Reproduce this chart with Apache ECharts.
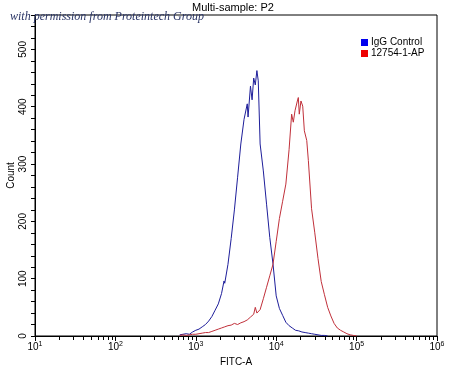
<!DOCTYPE html>
<html><head><meta charset="utf-8">
<script src="https://cdn.jsdelivr.net/npm/echarts@6/dist/echarts.min.js"></script>
<style>html,body{margin:0;padding:0;background:#fff}#c{width:450px;height:367px}</style>
</head><body><div id="c"></div>
<script>
var titleText = 'Multi-sample: P2';
var watermark = 'with permission from Proteintech Group';
var xName = 'FITC-A';
var yName = 'Count';
var seriesNames = ['IgG Control', '12754-1-AP'];

var iggX = [631,692,759,832,912,1000,1096,1202,1318,1445,1585,1738,1905,2089,2244,2291,2512,2754,3020,3311,3631,3981,4365,4467,4786,5012,5248,5495,5754,5984,6310,6918,7586,8318,9120,10000,10965,12023,13183,14454,15849,17378,19055,20893,22909,25119,27542,30200,33113,36308,39811,43652];
var iggY = [2,3,4,3,7,10,12,16,20,26,34,45,56,74,96,92,125,170,220,277,335,378,405,382,436,412,450,438,463,445,335,288,230,172,126,70,48,36,24,18,14,10,9,7,6,5,4,3,2,1,1,0];
var abX = [631,692,759,832,912,1000,1096,1202,1318,1445,1585,1738,1905,2089,2291,2512,2754,3020,3311,3631,3981,4365,4786,5248,5495,5754,6310,6918,7586,8318,9120,10000,10965,12023,13183,14454,15560,16323,17140,18330,18840,19360,20320,21380,22390,23990,25119,27542,30200,33113,36308,39811,43652,47863,52481,57544,63096,69183,75858,83176,91201,100000];
var abY = [1,2,1,2,3,3,4,5,6,6,8,10,12,14,16,18,19,22,20,23,25,28,33,38,50,40,46,65,85,105,125,165,205,235,265,325,387,373,393,410,416,387,410,401,358,341,306,222,180,135,95,72,50,35,22,14,10,7,4,2,1,0];

var minorTicks = [20,30,40,50,60,70,80,90,200,300,400,500,600,700,800,900,2000,3000,4000,5000,6000,7000,8000,9000,20000,30000,40000,50000,60000,70000,80000,90000,200000,300000,400000,500000,600000,700000,800000,900000];

function pairs(xs, ys){ return xs.map(function(x,i){ return [x, ys[i]]; }); }

var chart = echarts.init(document.getElementById('c'), null, {renderer:'canvas'});
chart.setOption({
  animation: false,
  backgroundColor: '#fff',
  textStyle: {fontFamily: '"Liberation Sans", Arial, sans-serif'},
  grid: {left: 35, right: 13, top: 15, bottom: 31, show: true, borderColor: '#000', borderWidth: 1, backgroundColor: 'transparent', containLabel: false, outerBoundsMode: 'none'},
  graphic: {elements: [
    {id: 'title', type: 'text', left: 192, top: 2, style: {text: titleText, font: '11px "Liberation Sans", Arial, sans-serif', fill: '#000'}},
    {id: 'wm', type: 'text', left: 10, top: 11, z: 100, style: {text: watermark, font: 'italic 12px "Liberation Serif", serif', fill: '#2a3566'}}
  ]},
  legend: {
    left: 356, top: 32, orient: 'vertical', itemWidth: 7, itemHeight: 7, itemGap: 0,
    icon: 'rect',
    textStyle: {fontSize: 10, lineHeight: 11, color: '#000', padding: [0,0,0,-2]},
    data: [
      {name: seriesNames[0], itemStyle: {color: '#0000ee'}},
      {name: seriesNames[1], itemStyle: {color: '#ee0000'}}
    ]
  },
  xAxis: {
    type: 'log', logBase: 10, min: 10, max: 1000000,
    name: xName, nameLocation: 'middle', nameGap: 21, nameMoveOverlap: false,
    nameTextStyle: {fontSize: 10, color: '#000'},
    axisLine: {lineStyle: {color: '#000', width: 1}},
    axisTick: {show: true, length: 5, lineStyle: {color: '#000'}},
    splitLine: {show: false},
    axisLabel: {
      color: '#000', margin: 5,
      formatter: function(v){ return '{b|10}{s|' + Math.round(Math.log10(v)) + '}'; },
      rich: {b: {fontSize: 10, color: '#000'}, s: {fontSize: 7, color: '#000', verticalAlign: 'top', padding: [0,0,6,0]}}
    }
  },
  yAxis: {
    type: 'value', min: 0, max: 560, interval: 20,
    name: yName, nameLocation: 'middle', nameGap: 19, nameMoveOverlap: false,
    nameTextStyle: {fontSize: 10, color: '#000'},
    axisLine: {show: true, lineStyle: {color: '#000', width: 1}},
    axisTick: {show: true, length: 4, lineStyle: {color: '#000'}},
    splitLine: {show: false},
    axisLabel: {
      color: '#000', fontSize: 10, rotate: 90, margin: 7,
      formatter: function(v){ return v % 100 === 0 && v <= 500 ? String(v) : ''; }
    }
  },
  series: [
    {name: seriesNames[0], type: 'line', data: pairs(iggX, iggY), showSymbol: false, symbol: 'none',
     lineStyle: {color: '#1e1e9a', width: 1}, itemStyle: {color: '#0000ee'}},
    {name: seriesNames[1], type: 'line', data: pairs(abX, abY), showSymbol: false, symbol: 'none',
     lineStyle: {color: '#c0303a', width: 1}, itemStyle: {color: '#ee0000'}}
  ]
});

var dbg = '';
try {
  var y0 = chart.convertToPixel({yAxisIndex: 0}, 0);
  var els = [];
  minorTicks.forEach(function(v, i){
    var px = chart.convertToPixel({xAxisIndex: 0}, v);
    if (i === 0) dbg += 'px0=' + px + ' y0=' + y0;
    if (typeof px !== 'number' || isNaN(px)) return;
    var x = Math.round(px) + 0.5;
    els.push({id: 'mt' + i, type: 'rect', silent: true, z: 50,
      shape: {x: Math.round(px), y: Math.round(y0) + 1, width: 1, height: 3},
      style: {fill: '#000'}});
  });
  dbg += ' n=' + els.length;
  chart.setOption({graphic: {elements: els}});
} catch (e) { dbg += ' err=' + e.message; }
document.title = dbg;
if (dbg.indexOf('err') >= 0 || dbg.indexOf('n=0') >= 0) {
  var d = document.createElement('div');
  d.style.cssText = 'position:absolute;left:40px;top:300px;font:10px sans-serif;color:#888';
  d.textContent = dbg;
  document.body.appendChild(d);
}
</script>
</body></html>
